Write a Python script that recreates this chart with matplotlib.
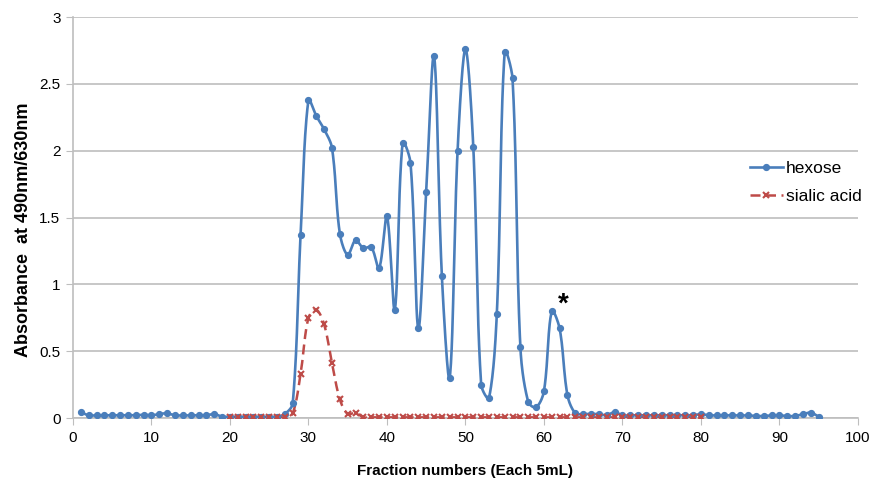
import matplotlib.pyplot as plt
import numpy as np

plt.rcParams['font.family'] = ['Liberation Sans', 'DejaVu Sans']

# hexose absorbance, fractions 1..95
hex_frac = list(range(1, 96))
hex_abs = [0.045, 0.02, 0.02, 0.02, 0.02, 0.02, 0.02, 0.02, 0.025, 0.02,
           0.03, 0.035, 0.02, 0.02, 0.02, 0.02, 0.02, 0.03, 0.01, 0.01,
           0.01, 0.01, 0.01, 0.01, 0.01, 0.01, 0.03, 0.11, 1.37, 2.38,
           2.26, 2.16, 2.02, 1.38, 1.22, 1.33, 1.27, 1.28, 1.12, 1.51,
           0.81, 2.06, 1.91, 0.67, 1.69, 2.71, 1.06, 0.30, 2.00, 2.76,
           2.03, 0.25, 0.15, 0.78, 2.74, 2.54, 0.53, 0.12, 0.08, 0.20,
           0.80, 0.67, 0.17, 0.035, 0.03, 0.03, 0.03, 0.02, 0.045, 0.02,
           0.02, 0.02, 0.02, 0.02, 0.02, 0.02, 0.02, 0.02, 0.02, 0.03,
           0.02, 0.02, 0.02, 0.02, 0.02, 0.02, 0.015, 0.015, 0.02, 0.02,
           0.015, 0.015, 0.03, 0.04, 0.01]

# sialic acid absorbance, fractions 20..80
sia_frac = list(range(20, 81))
sia_abs = [0.005] * 8 + [0.035, 0.33, 0.75, 0.81, 0.70, 0.41, 0.14, 0.03, 0.04] + [0.005] * 44


def smooth(ax, x, y, n=24, f=1/3.):
    # Excel-like smoothed line: bezier segments, control points weighted
    # by segment lengths measured in screen pixels
    pts = ax.transData.transform(np.column_stack([x, y]))
    P = np.vstack([pts[0], pts, pts[-1]])
    out = []
    t = np.linspace(0, 1, n, endpoint=False)[:, None]
    for i in range(1, len(P) - 2):
        p0, p1, p2, p3 = P[i-1], P[i], P[i+1], P[i+2]
        d01 = np.hypot(*(p1 - p0))
        d12 = np.hypot(*(p2 - p1))
        d23 = np.hypot(*(p3 - p2))
        k1 = d12 / (d01 + d12) if d01 + d12 > 0 else 0
        k2 = d12 / (d12 + d23) if d12 + d23 > 0 else 0
        c1 = p1 + (p2 - p0) * f * k1
        c2 = p2 - (p3 - p1) * f * k2
        seg = (1-t)**3 * p1 + 3*(1-t)**2*t * c1 + 3*(1-t)*t**2 * c2 + t**3 * p2
        out.append(seg)
    out.append(pts[-1:])
    curve = ax.transData.inverted().transform(np.vstack(out))
    return curve[:, 0], curve[:, 1]


blue = '#4A7EBB'
red = '#BE4B48'
dash = (0, (4, 2.2))

fig = plt.figure(figsize=(8.79, 4.79), dpi=100)
ax = fig.add_axes([0.083, 0.1273, 0.893, 0.8372])
ax.set_xlim(0, 100)
ax.set_ylim(0, 3)

sx, sy = smooth(ax, hex_frac, hex_abs)
ax.plot(sx, sy, color=blue, lw=1.9, zorder=3)
ax.plot(hex_frac, hex_abs, 'o', color=blue, ms=4.2, zorder=4)

sx, sy = smooth(ax, sia_frac, sia_abs)
ax.plot(sx, sy, color=red, lw=1.8, ls=dash, zorder=3)
ax.plot(sia_frac, sia_abs, 'x', color=red, ms=4, mew=1.5, zorder=4)

# legend proxies
ax.plot([], [], color=blue, lw=1.9, marker='o', ms=4.2, label='hexose')
ax.plot([], [], color=red, lw=1.8, ls=dash, marker='x', ms=4, mew=1.5, label='sialic acid')
ax.legend(loc='upper left', bbox_to_anchor=(750/879, 1 - 161/479),
          bbox_transform=fig.transFigure, frameon=False, borderpad=0,
          borderaxespad=0, fontsize=12.5, handlelength=1.9,
          handletextpad=0.15, labelspacing=0.74)

ax.text(62.5, 0.85, '*', fontsize=20, fontweight='bold', ha='center', va='center')

ax.set_xticks(np.arange(0, 101, 10))
ax.set_yticks([0, 0.5, 1, 1.5, 2, 2.5, 3])
ax.set_yticklabels(['0', '0.5', '1', '1.5', '2', '2.5', '3'])
ax.grid(axis='y', color='#BEBEBE', lw=1.2)
ax.set_axisbelow(True)
for s in ['top', 'right']:
    ax.spines[s].set_visible(False)
for s in ['left', 'bottom']:
    ax.spines[s].set_color('#BEBEBE')
    ax.spines[s].set_linewidth(1.2)
ax.tick_params(axis='x', length=5, color='#BEBEBE', labelsize=11, pad=4)
ax.tick_params(axis='y', length=5, color='#BEBEBE', labelsize=11, pad=4)

ax.set_xlabel('Fraction numbers (Each 5mL)', fontsize=11, fontweight='bold', labelpad=14)
ax.set_ylabel('Absorbance  at 490nm/630nm', fontsize=13, fontweight='bold')
ax.yaxis.set_label_coords(-0.052, 0.47)

fig.savefig('out.png', dpi=100)
